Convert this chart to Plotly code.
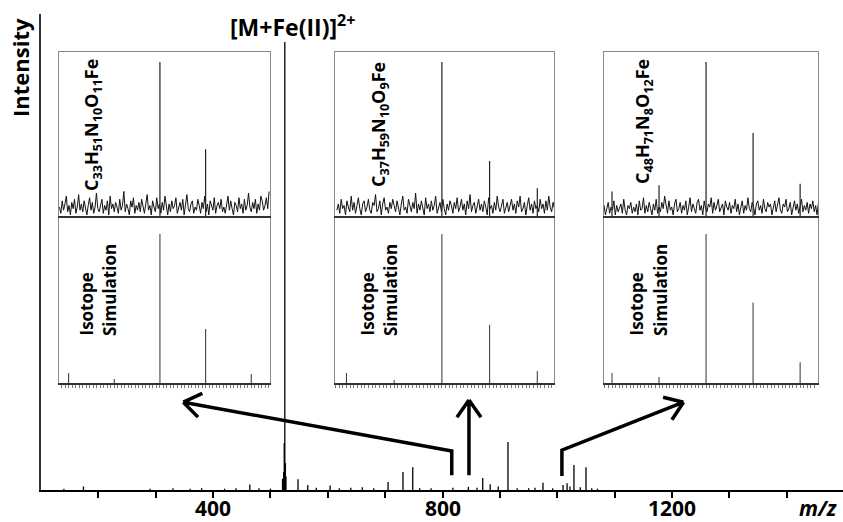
import math
import plotly.graph_objects as go

# ---------------- data ----------------
# main spectrum (m/z, relative intensity)
main_mz = [140, 174, 290, 330, 360, 380, 420, 440, 464, 480, 500,
           521, 523, 524, 525, 526, 527, 548, 565, 580, 604, 620, 640, 660, 680,
           705, 731, 748, 760, 780, 818, 845, 860, 870, 883, 897, 914, 930, 950,
           961, 975, 992, 1010, 1017, 1022, 1029, 1040, 1050, 1060, 1070]
main_int = [0.3, 0.8, 0.3, 0.4, 0.3, 0.4, 0.3, 0.4, 1.2, 0.4, 0.3,
            2.5, 4.0, 10.5, 100, 6.0, 3.0, 2.4, 1.1, 0.5, 1.0, 0.4, 0.5, 0.6, 0.4,
            1.8, 4.0, 5.1, 0.4, 0.4, 0.5, 0.7, 0.5, 2.7, 1.3, 0.8, 10.7, 0.4, 0.4,
            0.5, 1.6, 0.4, 1.1, 1.5, 0.8, 5.6, 0.6, 5.1, 0.4, 0.3]

main_ticks = [200, 300, 400, 500, 600, 700, 800, 900, 1000, 1100, 1200, 1300, 1400]
main_tick_labels = ["", "", "400", "", "", "", "800", "", "", "", "1200", "", ""]

# inset formulas and monoisotopic m/z
inset_labels = ["C<sub>33</sub>H<sub>51</sub>N<sub>10</sub>O<sub>11</sub>Fe",
                "C<sub>37</sub>H<sub>59</sub>N<sub>10</sub>O<sub>9</sub>Fe",
                "C<sub>48</sub>H<sub>71</sub>N<sub>8</sub>O<sub>12</sub>Fe"]
inset_center = [819.3, 843.4, 1007.5]

# experimental isotope peaks (offset from main peak, relative intensity)
exp_offsets = [[0, 1], [0, 1, 2], [-2, -1, 0, 1, 2]]
exp_heights = [[1.0, 0.44], [1.0, 0.365, 0.19], [0.17, 0.21, 1.0, 0.545, 0.22]]

# simulated isotope pattern
sim_offsets = [[-2, -1, 0, 1, 2], [-2, -1, 0, 1, 2], [-2, -1, 0, 1, 2]]
sim_heights = [[0.067, 0.027, 1.0, 0.362, 0.06],
               [0.067, 0.02, 1.0, 0.39, 0.08],
               [0.067, 0.04, 1.0, 0.54, 0.14]]

# experimental baseline noise, % of main peak (sampled every 0.03 m/z from offset -2.2)
noise_pct_1 = [7, 3, 11, 5, 9, 14, 4, 8, 2, 10, 6, 12, 3, 7, 15, 5, 9, 4, 11, 6,
               2, 8, 13, 5, 10, 3, 7, 16, 6, 4, 9, 12, 3, 8, 5, 11, 2, 14, 6, 9,
               4, 10, 7, 3, 12, 5, 8, 17, 4, 9, 6, 2, 11, 7, 13, 3, 8, 5, 10, 4,
               12, 6, 3, 9, 15, 5, 8, 2, 11, 7, 4, 13, 6, 9, 3, 10, 5, 14, 7, 2,
               9, 4, 11, 6, 8, 13, 3, 7, 10, 5, 12, 2, 8, 15, 6, 4, 9, 11, 3, 7,
               5, 12, 8, 3, 10, 6, 14, 4, 9, 2, 11, 7, 5, 13, 3, 8, 10, 6, 12, 4,
               7, 3, 9, 14, 5, 11, 6, 2, 10, 8, 4, 13, 6, 9, 3, 12, 5, 8, 16, 7,
               4, 10, 6, 12, 3, 9, 5, 14, 11, 5, 8, 13, 6, 17]
noise_pct_2 = [5, 9, 3, 12, 6, 8, 2, 11, 7, 4, 14, 5, 10, 3, 8, 13, 6, 2, 9, 11,
               4, 7, 12, 5, 3, 10, 8, 15, 4, 6, 11, 2, 9, 13, 5, 7, 3, 10, 6, 12,
               8, 4, 11, 6, 2, 9, 14, 5, 7, 3, 12, 8, 4, 10, 6, 16, 3, 9, 5, 11,
               7, 2, 13, 6, 9, 4, 11, 5, 8, 14, 3, 7, 10, 4, 12, 6, 2, 9, 5, 11,
               8, 3, 10, 6, 13, 4, 7, 12, 5, 9, 2, 11, 6, 15, 4, 8, 10, 3, 7, 12,
               5, 9, 4, 11, 7, 2, 13, 6, 8, 3, 10, 5, 14, 7, 4, 9, 12, 3, 6, 10,
               4, 8, 12, 5, 9, 3, 11, 7, 14, 4, 6, 10, 2, 8, 13, 5, 9, 3, 11, 6,
               8, 4, 12, 6, 9, 3, 11, 5, 14, 7, 4, 10, 6, 13]
noise_pct_3 = [4, 8, 2, 6, 10, 3, 7, 5, 11, 2, 8, 4, 6, 9, 3, 12, 5, 2, 8, 6,
               10, 3, 7, 4, 9, 2, 11, 5, 6, 13, 3, 8, 4, 10, 6, 2, 9, 5, 12, 3,
               7, 4, 10, 6, 14, 8, 3, 11, 5, 7, 2, 9, 12, 4, 6, 10, 3, 8, 5, 11,
               2, 7, 13, 4, 9, 6, 3, 10, 12, 5, 8, 2, 11, 6, 4, 9, 7, 13, 3, 10,
               5, 8, 12, 4, 6, 9, 2, 11, 7, 5, 10, 3, 8, 6, 12, 4, 9, 2, 7, 11,
               3, 8, 5, 13, 6, 4, 10, 7, 2, 9, 11, 5, 8, 3, 12, 6, 4, 10, 7, 9,
               2, 6, 11, 4, 8, 13, 5, 3, 9, 7, 12, 4, 6, 10, 2, 8, 11, 5, 9, 3,
               7, 12, 4, 8, 5, 10, 3, 9, 6, 11, 4, 8, 2, 10]
noise_lists = [noise_pct_1, noise_pct_2, noise_pct_3]
noise_start = -2.2
noise_step = 0.03

# arrows in main-spectrum coordinates: (m/z, intensity) polyline, last point = head
arrow_paths = [[(816, 3.3), (816, 8.7), (348, 19.6)],
               [(846, 3.3), (846, 20.1)],
               [(1008, 3.1), (1008, 8.9), (1220, 19.6)]]

# ---------------- layout geometry ----------------
W, H = 843, 522
ML, MR, MT, MB = 41, 0, 14, 32
PW = W - ML - MR
PH = H - MT - MB
XR = [100, 1498]
YR = [0, 106.25]
FONT = "Open Sans"


def px_x(x):
    return (x - ML) / PW


def px_y(y):
    return (H - MB - y) / PH


def data_to_px(m, v):
    return (ML + (m - XR[0]) / (XR[1] - XR[0]) * PW,
            H - MB - (v - YR[0]) / (YR[1] - YR[0]) * PH)


def sticks(xs, hs):
    X, Y = [], []
    for x, h in zip(xs, hs):
        X += [x, x, None]
        Y += [0, h, None]
    return X, Y


inset_px = [(59, 270), (335, 554), (604, 818)]
inset_rng = [(-2.21, 2.41), (-2.24, 2.35), (-2.17, 2.38)]
top_px = (52, 218)
bot_px = (218, 383)

fig = go.Figure()

# main spectrum
mx, my = sticks(main_mz, main_int)
fig.add_trace(go.Scatter(x=mx, y=my, mode="lines", line=dict(color="black", width=1.3),
                         hoverinfo="skip", showlegend=False, xaxis="x", yaxis="y"))

layout = dict(
    width=W, height=H,
    margin=dict(l=ML, r=MR, t=MT, b=MB),
    paper_bgcolor="white", plot_bgcolor="white",
    showlegend=False,
    font=dict(family=FONT, color="black"),
    xaxis=dict(range=XR, domain=[0, 1], showgrid=False, zeroline=False,
               showline=True, linecolor="black", linewidth=2,
               ticks="outside", ticklen=6, tickwidth=1.5, tickcolor="black",
               tickmode="array", tickvals=main_ticks, showticklabels=False),
    yaxis=dict(range=YR, domain=[0, 1], showgrid=False, zeroline=False,
               showline=True, linecolor="#333", linewidth=1.5,
               ticks="", showticklabels=False),
)

annotations = []
shapes = []

# tick labels of the main m/z axis
for v, t in zip(main_ticks, main_tick_labels):
    if t:
        annotations.append(dict(text="<b>" + t + "</b>", x=v, y=px_y(508), xref="x",
                                yref="paper", showarrow=False, xanchor="center",
                                yanchor="middle",
                                font=dict(size=21, family=FONT, color="black")))

for i in range(3):
    c = inset_center[i]
    xdom = [px_x(inset_px[i][0]), px_x(inset_px[i][1])]
    xr = [c + inset_rng[i][0], c + inset_rng[i][1]]
    ta = 2 + 2 * i
    ba = 3 + 2 * i
    # top: experimental
    nl = [v / 100 for v in noise_lists[i]]
    nx = [c + noise_start + k * noise_step for k in range(len(nl))]
    fig.add_trace(go.Scatter(x=nx, y=nl, mode="lines", line=dict(color="#111", width=1),
                             hoverinfo="skip", xaxis=f"x{ta}", yaxis=f"y{ta}"))
    ex, ey = sticks([c + o for o in exp_offsets[i]], exp_heights[i])
    fig.add_trace(go.Scatter(x=ex, y=ey, mode="lines", line=dict(color="#222", width=1.2),
                             hoverinfo="skip", xaxis=f"x{ta}", yaxis=f"y{ta}"))
    # bottom: simulation
    sx, sy = sticks([c + o for o in sim_offsets[i]], sim_heights[i])
    fig.add_trace(go.Scatter(x=sx, y=sy, mode="lines", line=dict(color="#444", width=1.1),
                             hoverinfo="skip", xaxis=f"x{ba}", yaxis=f"y{ba}"))

    layout[f"xaxis{ta}"] = dict(domain=xdom, range=xr, anchor=f"y{ta}", showgrid=False,
                                zeroline=False, showline=True, mirror=True,
                                linecolor="#8a8a8a", linewidth=1.2, showticklabels=False, ticks="")
    layout[f"yaxis{ta}"] = dict(domain=[px_y(top_px[1]), px_y(top_px[0])], range=[0, 1.064],
                                anchor=f"x{ta}", showgrid=False, zeroline=False, showline=True,
                                mirror=True, linecolor="#8a8a8a", linewidth=1.2,
                                showticklabels=False, ticks="")
    layout[f"xaxis{ba}"] = dict(domain=xdom, range=xr, anchor=f"y{ba}", showgrid=False,
                                zeroline=False, showline=True, mirror=True,
                                linecolor="#333", linewidth=1.5, showticklabels=False,
                                ticks="outside", ticklen=3, tickwidth=1, tickcolor="#777",
                                tick0=c, dtick=1 / 13)
    layout[f"yaxis{ba}"] = dict(domain=[px_y(bot_px[1]), px_y(bot_px[0])], range=[0, 1.107],
                                anchor=f"x{ba}", showgrid=False, zeroline=False, showline=True,
                                mirror=True, linecolor="#8a8a8a", linewidth=1.2,
                                showticklabels=False, ticks="")

label_px = [(93, 125), (380, 125), (644, 122)]
iso_px = [(86, 109), (367, 390), (636, 660)]
for i in range(3):
    annotations.append(dict(text="<b>" + inset_labels[i] + "</b>", textangle=-90,
                            x=px_x(label_px[i][0]), y=px_y(label_px[i][1]),
                            xref="paper", yref="paper", showarrow=False,
                            xanchor="center", yanchor="middle",
                            font=dict(size=18, family=FONT, color="black")))
    for txt, xx in zip(["Isotope", "Simulation"], iso_px[i]):
        annotations.append(dict(text="<b>" + txt + "</b>", textangle=-90,
                                x=px_x(xx), y=px_y(338), xref="paper", yref="paper",
                                showarrow=False, xanchor="center", yanchor="bottom",
                                font=dict(size=17, family=FONT, color="black")))

annotations.append(dict(text="<b>Intensity</b>", textangle=-90, x=px_x(20), y=px_y(68),
                        xref="paper", yref="paper", showarrow=False,
                        xanchor="center", yanchor="middle",
                        font=dict(size=22, family=FONT, color="black")))
annotations.append(dict(text="<b>[M+Fe(II)]<sup>2+</sup></b>", x=525, y=100,
                        xref="x", yref="y", showarrow=False, xanchor="center",
                        yanchor="bottom", xshift=8, yshift=-3,
                        font=dict(size=23, family=FONT, color="black")))
annotations.append(dict(text="<b><i>m/z</i></b>", x=px_x(818), y=px_y(508),
                        xref="paper", yref="paper", showarrow=False,
                        xanchor="center", yanchor="middle",
                        font=dict(size=21, family=FONT, color="black")))

# arrows
for path in arrow_paths:
    pts = [data_to_px(m, v) for m, v in path]
    d = "M " + " L ".join(f"{px_x(x):.5f},{px_y(y):.5f}" for x, y in pts)
    tx, ty = pts[-1]
    qx, qy = pts[-2]
    L = math.hypot(tx - qx, ty - qy)
    ux, uy = (tx - qx) / L, (ty - qy) / L
    arm = 21
    for ang in (35, -35):
        a = math.radians(ang)
        rx = ux * math.cos(a) - uy * math.sin(a)
        ry = ux * math.sin(a) + uy * math.cos(a)
        ax_, ay_ = tx - arm * rx, ty - arm * ry
        d += f" M {px_x(ax_):.5f},{px_y(ay_):.5f} L {px_x(tx):.5f},{px_y(ty):.5f}"
    shapes.append(dict(type="path", path=d, xref="paper", yref="paper",
                       line=dict(color="black", width=3.5), layer="above"))

layout["annotations"] = annotations
layout["shapes"] = shapes
fig.update_layout(**layout)
fig.write_html("out.html", config={"displayModeBar": False},
               post_script="document.body.style.margin='0';document.body.style.padding='0';")
